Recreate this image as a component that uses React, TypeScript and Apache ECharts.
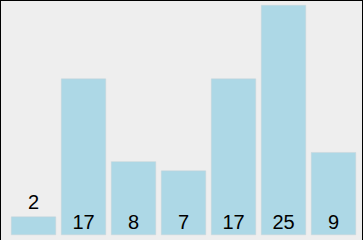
import React, { useEffect, useRef } from "react";
import * as echarts from "echarts";

const categories = ["A", "B", "C", "D", "E", "F", "G"];
const values = [2, 17, 8, 7, 17, 25, 9];
const labelOnTop = [true, false, false, false, false, false, false];

export default function App() {
  const ref = useRef<HTMLDivElement>(null);
  useEffect(() => {
    document.body.style.margin = "0";
    const chart = echarts.init(ref.current!, null, { renderer: "svg" });
    chart.setOption({
      animation: false,
      backgroundColor: "#eeeeee",
      grid: { left: 8.5, width: 350, top: 5, bottom: 5 },
      xAxis: { type: "category", data: categories, show: false },
      yAxis: { type: "value", min: 0, max: 25, show: false },
      series: [
        {
          type: "bar",
          barWidth: 45,
          data: values.map((v, i) => ({
            value: v,
            label: labelOnTop[i]
              ? { position: "top", distance: 5 }
              : { position: "insideBottom", distance: 3 },
          })),
          itemStyle: {
            color: "#add8e6",
            borderColor: "#c8d4d8",
            borderWidth: 0.5,
          },
          label: {
            show: true,
            color: "#000",
            fontSize: 20,
            fontFamily: "Liberation Sans, Arial, sans-serif",
          },
        },
      ],
    });
    return () => chart.dispose();
  }, []);
  return (
    <div style={{ position: "relative", width: 363, height: 240 }}>
      <div ref={ref} style={{ width: 363, height: 240 }} />
      <div
        style={{
          position: "absolute",
          left: 0,
          top: 0,
          width: 363,
          height: 240,
          boxSizing: "border-box",
          borderTop: "1px solid #000",
          borderLeft: "1px solid #000",
          borderRight: "1px solid #000",
          pointerEvents: "none",
        }}
      />
    </div>
  );
}
